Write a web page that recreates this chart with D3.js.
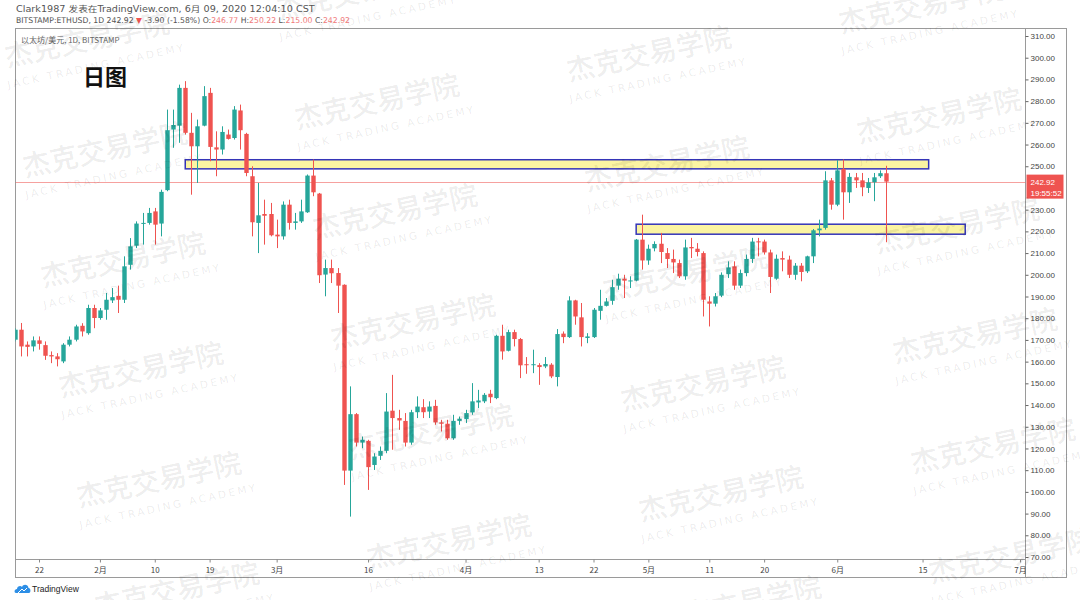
<!DOCTYPE html>
<html>
<head>
<meta charset="utf-8">
<script src="https://cdn.jsdelivr.net/npm/d3@7"></script>
<style>
  html, body { margin: 0; padding: 0; background: #fff; }
  svg { display: block; }
</style>
</head>
<body>
<svg id="chart" width="1080" height="600"></svg>
<script>
// ---------------- DATA ----------------
const firstDay = "2020-01-18";
const lastDay = "2020-06-09";
const openVals = [170.1,174.7,167.8,167.0,169.8,167.6,163.0,162.4,160.1,167.8,170.1,176.5,173.1,184.7,
  180.1,183.9,188.2,190.3,188.5,204.6,213.4,223.6,223.9,229.2,223.6,239.0,266.9,268.7,286.1,265.4,259.2,268.7,283.8,258.7,257.7,264.6,263.0,275.7,264.9,245.4,223.9,228.0,228.0,
  218.5,217.7,232.3,223.9,224.6,228.8,245.7,237.4,200.1,203.1,200.8,195.4,109.8,135.8,122.7,123.5,112.4,116.6,118.9,137.4,134.0,132.7,122.7,136.7,139.0,137.0,139.6,132.0,131.4,124.7,132.7,
  133.5,136.6,141.2,141.7,145.2,143.2,171.9,165.0,173.6,170.4,158.8,158.5,158.4,157.8,158.6,152.9,172.9,171.3,188.2,180.4,170.9,171.3,183.4,185.7,188.0,195.0,198.2,197.0,197.3,216.2,
  206.6,212.2,214.3,210.0,207.3,205.4,199.3,212.8,212.0,210.0,187.7,186.7,190.4,200.3,203.9,195.0,200.8,207.3,215.4,215.3,210.3,198.2,207.7,207.0,200.0,204.2,201.6,208.5,220.5,221.6,243.5,
  232.3,248.8,238.0,244.9,243.5,240.0,242.6,245.4,246.77];
const highVals = [175.4,177.8,169.3,171.6,171.6,169.3,164.7,163.9,168.5,171.6,177.0,177.7,186.2,186.2,
  184.7,191.6,193.9,195.0,208.5,216.9,224.6,228.5,230.8,230.8,239.2,276.1,276.1,287.6,289.2,274.6,271.5,286.9,286.1,266.1,268.4,266.9,277.7,278.4,265.4,250.0,242.3,234.6,233.1,
  225.4,233.8,234.6,228.5,234.6,246.2,253.1,237.7,207.0,207.0,203.1,195.6,148.6,136.3,125.5,124.0,117.8,120.9,145.5,153.9,137.8,136.3,137.8,144.0,142.7,141.7,142.4,133.2,133.2,135.5,134.7,
  137.8,150.1,147.0,145.5,147.0,172.4,177.0,174.7,174.7,170.9,162.1,165.5,159.3,162.1,159.3,175.0,173.9,190.1,188.5,187.0,173.1,184.7,193.1,189.3,197.7,200.5,200.0,199.3,216.5,227.7,
  213.9,215.4,219.3,212.3,211.6,207.0,216.2,217.0,214.6,210.8,190.1,191.6,201.1,206.2,206.2,202.4,209.3,217.0,217.0,216.2,211.6,209.3,210.8,208.8,205.4,205.4,208.8,221.1,225.4,247.7,244.6,
  252.8,253.1,246.9,246.9,246.9,244.6,246.9,248.1,250.22];
const lowVals = [169.3,162.4,162.4,164.7,165.5,160.8,159.3,157.8,159.3,167.0,169.3,171.6,172.4,175.4,
  179.3,179.3,187.0,182.4,187.0,202.4,212.3,213.9,223.1,213.9,217.7,238.5,258.5,260.8,264.6,236.9,242.3,268.4,252.3,245.4,255.4,262.3,262.3,257.7,245.4,217.7,210.0,213.9,217.7,
  212.3,216.2,220.8,220.8,223.9,228.5,236.2,196.2,190.1,196.2,182.4,103.2,88.6,120.9,120.1,100.9,110.1,114.7,117.8,119.4,128.6,120.9,121.7,134.0,134.0,134.0,130.9,127.8,124.0,124.0,130.9,
  131.7,135.5,138.6,140.9,140.9,142.7,160.9,164.7,167.0,152.4,154.4,154.7,149.3,157.0,152.4,148.6,168.5,170.9,177.0,167.0,168.5,170.9,179.3,185.4,186.2,193.1,189.3,193.9,197.0,202.4,
  204.6,210.8,205.4,203.1,200.8,198.5,197.7,207.7,208.5,180.8,176.2,185.4,189.7,198.5,193.1,193.9,199.3,205.4,208.5,209.3,191.6,197.7,201.6,198.5,197.7,197.0,200.8,205.4,217.7,220.8,230.0,
  231.6,225.4,233.1,240.0,236.2,237.7,233.9,244.6,215.00];
const closeVals = [174.7,167.0,166.8,169.8,168.2,162.7,162.4,161.1,167.8,170.1,176.2,173.9,184.7,180.1,
  183.6,188.5,189.7,188.5,203.9,213.1,223.6,223.9,228.5,223.1,238.2,266.6,269.0,286.1,265.4,259.2,268.4,282.3,258.9,257.7,265.8,262.6,276.1,266.6,246.9,224.2,227.4,227.2,218.2,
  217.7,232.3,223.9,224.6,229.2,245.7,238.0,199.8,203.1,200.7,195.0,109.8,135.8,122.7,124.0,111.4,116.3,118.9,137.0,134.0,132.9,122.7,136.7,139.3,136.7,139.3,132.0,131.4,124.7,132.7,133.7,
  136.3,141.7,142.1,144.7,143.6,171.9,164.7,173.6,170.4,158.3,158.6,158.8,157.5,158.9,153.2,172.7,171.3,188.2,180.8,171.3,171.6,183.9,185.7,187.7,194.3,198.2,197.3,197.4,216.2,206.6,
  212.0,214.2,210.5,207.3,205.7,199.3,212.6,212.2,210.5,188.5,186.7,190.1,200.0,203.4,195.0,200.8,207.3,215.3,215.0,210.3,199.0,207.4,207.0,200.0,204.2,201.3,208.5,220.5,221.3,243.5,232.3,
  248.1,238.0,245.1,243.5,240.3,242.6,244.9,246.8,242.92];

// zones (start date, end date, top price, bottom price)
const zoneStarts = ["2020-02-15", "2020-04-29"];
const zoneEnds = ["2020-06-16", "2020-06-22"];
const zoneTops = [253.0, 223.3];
const zoneBottoms = [248.8, 218.7];

const lastPrice = 242.92;
// 240.00 is hidden behind the last-price label in the reference
const yTickValues = [70,80,90,100,110,120,130,140,150,160,170,180,190,200,210,220,230,250,260,270,280,290,300,310];
const xTickDates = ["2020-01-22","2020-02-01","2020-02-10","2020-02-19","2020-03-01","2020-03-16","2020-04-01","2020-04-13","2020-04-22","2020-05-01","2020-05-11","2020-05-20","2020-06-01","2020-06-15","2020-07-01"];
const xTickLabels = ["22","2月","10","19","3月","16","4月","13","22","5月","11","20","6月","15","7月"];

// ---------------- SETUP ----------------
const parse = d3.utcParse("%Y-%m-%d");
const days = d3.utcDay.range(parse(firstDay), d3.utcDay.offset(parse(lastDay), 1));
const candles = days.map((d, i) => ({date: d, o: openVals[i], h: highVals[i], l: lowVals[i], c: closeVals[i]}));

const svg = d3.select("#chart");
const CJK = "'Noto Sans CJK SC', 'Noto Sans', sans-serif";
const SANS = "'Liberation Sans', Arial, sans-serif";

const L = 15.5, R = 1025.5, T = 28.5, B = 559.5, OUTR = 1066.5, OUTB = 577.5;

const x = d3.scaleUtc().domain([parse("2020-01-22"), parse("2020-06-09")]).range([39, 886]);
const y = d3.scaleLinear().domain([70, 310]).range([557, 36]);

svg.append("defs").append("clipPath").attr("id", "plotclip")
  .append("rect").attr("x", L).attr("y", T).attr("width", R - L).attr("height", B - T);

const UP = "#26a69a", DOWN = "#ef5350";

// ---------------- HEADER ----------------
function fitText(sel, x0, target) {
  const w = sel.node().getComputedTextLength();
  sel.attr("transform", `translate(${x0},0) scale(${target / w},1)`);
}
const h1 = svg.append("text").attr("x", 0).attr("y", 12)
  .style("font-family", "'DejaVu Sans', 'Noto Sans CJK SC', sans-serif").style("font-size", "8px").attr("fill", "#555")
  .text("Clark1987 发表在TradingView.com, 6月 09, 2020 12:04:10 CST");
fitText(h1, 16, 299);

const h2 = svg.append("text").attr("x", 0).attr("y", 23)
  .style("font-family", "'DejaVu Sans', sans-serif").style("font-size", "8px").attr("fill", "#555");
const segs = [
  ["BITSTAMP:ETHUSD, 1D 242.92 ", "#555"], ["▼", DOWN], [" -3.90 (-1.58%) O:", "#555"], ["246.77", "#f07a7a"],
  [" H:", "#555"], ["250.22", "#f07a7a"], [" L:", "#555"], ["215.00", "#f07a7a"], [" C:", "#555"], ["242.92", "#f07a7a"]
];
segs.forEach(s => h2.append("tspan").attr("fill", s[1]).text(s[0]));
fitText(h2, 16, 334);

// ---------------- FRAME ----------------
const frame = svg.append("g").attr("stroke", "#9a9a9a").attr("fill", "none").attr("shape-rendering", "crispEdges");
frame.append("rect").attr("x", L).attr("y", T).attr("width", OUTR - L).attr("height", OUTB - T);
frame.append("line").attr("x1", R).attr("x2", R).attr("y1", T).attr("y2", OUTB);
frame.append("line").attr("x1", L).attr("x2", R).attr("y1", B).attr("y2", B);

// ---------------- PLOT CONTENT ----------------
const plot = svg.append("g").attr("clip-path", "url(#plotclip)");

// zones
plot.selectAll("rect.zone").data(zoneStarts.map((s, i) => ({s: parse(s), e: parse(zoneEnds[i]), t: zoneTops[i], b: zoneBottoms[i]})))
  .join("rect").attr("class", "zone")
  .attr("x", d => x(d.s)).attr("width", d => x(d.e) - x(d.s))
  .attr("y", d => y(d.t)).attr("height", d => y(d.b) - y(d.t))
  .attr("fill", "#fbf4a2").attr("stroke", "#3535b8").attr("stroke-width", 1.5);

// last price line
plot.append("line").attr("x1", L).attr("x2", R)
  .attr("y1", Math.round(y(lastPrice)) + 0.5).attr("y2", Math.round(y(lastPrice)) + 0.5)
  .attr("stroke", DOWN).attr("stroke-opacity", 0.55).attr("stroke-width", 1);

// candles
const bw = 4.4;
const cg = plot.append("g");
cg.selectAll("line.wick").data(candles).join("line").attr("class", "wick")
  .attr("x1", d => Math.round(x(d.date)) + 0.5).attr("x2", d => Math.round(x(d.date)) + 0.5)
  .attr("y1", d => y(d.h)).attr("y2", d => y(d.l))
  .attr("stroke", d => d.c >= d.o ? UP : DOWN).attr("stroke-width", 1);
cg.selectAll("rect.body").data(candles).join("rect").attr("class", "body")
  .attr("x", d => Math.round(x(d.date)) + 0.5 - bw / 2).attr("width", bw)
  .attr("y", d => y(Math.max(d.o, d.c)))
  .attr("height", d => Math.max(1, Math.abs(y(d.o) - y(d.c))))
  .attr("fill", d => d.c >= d.o ? UP : DOWN);

// pane labels
svg.append("text").attr("x", 21).attr("y", 43)
  .style("font-family", CJK).style("font-size", "8px").attr("fill", "#666")
  .text("以太坊/美元, 1D, BITSTAMP");
svg.append("text").attr("x", 83).attr("y", 85)
  .style("font-family", CJK).style("font-size", "22px").style("font-weight", "bold").attr("fill", "#111")
  .text("日图");

// ---------------- AXES ----------------
const yAxis = d3.axisRight(y).tickValues(yTickValues).tickSize(3).tickPadding(2).tickFormat(d => d.toFixed(2));
const yg = svg.append("g").attr("transform", `translate(${R},0)`).call(yAxis);
yg.select(".domain").remove();
yg.selectAll(".tick line").attr("stroke", "#666");
yg.selectAll(".tick text").style("font-family", SANS).style("font-size", "8px").attr("fill", "#444");

const xAxis = d3.axisBottom(x).tickValues(xTickDates.map(parse)).tickSize(3).tickPadding(5)
  .tickFormat((d, i) => xTickLabels[i]);
const xg = svg.append("g").attr("transform", `translate(0,${B})`).call(xAxis);
xg.select(".domain").remove();
xg.selectAll(".tick line").attr("stroke", "#888");
xg.selectAll(".tick text").style("font-family", CJK).style("font-size", "8px").attr("fill", "#444");

// price label on axis
const py = y(lastPrice);
svg.append("rect").attr("x", R + 1).attr("y", py - 7).attr("width", 37).attr("height", 24).attr("fill", DOWN);
svg.append("text").attr("x", R + 5).attr("y", py + 3).style("font-family", SANS).style("font-size", "8px").attr("fill", "#fff").text("242.92");
svg.append("text").attr("x", R + 5).attr("y", py + 14).style("font-family", SANS).style("font-size", "8px").attr("fill", "#fff").text("19:55:52");

// ---------------- LOGO ----------------
const logo = svg.append("g").attr("transform", "translate(15,583)");
logo.append("path").attr("d", "M1,10 C-1,10 -1,6 2,6 C2,3 6,2 7,4 C8,1 13,1 13.5,5 C16,5 16,10 14,10 Z").attr("fill", "#2e8fe6");
logo.append("path").attr("d", "M3,10 L7,6 L9,8 L12,5").attr("stroke", "#fff").attr("stroke-width", 1).attr("fill", "none");
svg.append("text").attr("x", 32).attr("y", 592).style("font-family", SANS).style("font-size", "8.5px").attr("fill", "#222").text("TradingView");

// ---------------- WATERMARKS ----------------
const wm = svg.append("g").attr("pointer-events", "none");
for (let i = -1; i <= 4; i++) {
  for (let j = -2; j <= 6; j++) {
    const cx = 105 + 272 * i + 18 * j, cy = 150 - 48 * i + 110 * j;
    if (cx < -120 || cx > 1200 || cy < -50 || cy > 660) continue;
    const g = wm.append("g").attr("transform", `translate(${cx},${cy}) rotate(-12)`);
    g.append("text").attr("text-anchor", "middle").attr("dy", "0.35em")
      .style("font-family", CJK).style("font-size", "28px").style("font-weight", "500")
      .attr("fill", "#000").attr("fill-opacity", 0.085).text("杰克交易学院");
    g.append("text").attr("x", 4).attr("y", 31).attr("text-anchor", "middle")
      .style("font-family", "'DejaVu Sans', sans-serif").style("font-size", "10.5px").style("letter-spacing", "2.6px")
      .attr("fill", "#000").attr("fill-opacity", 0.085).text("JACK TRADING ACADEMY");
  }
}
</script>
</body>
</html>
